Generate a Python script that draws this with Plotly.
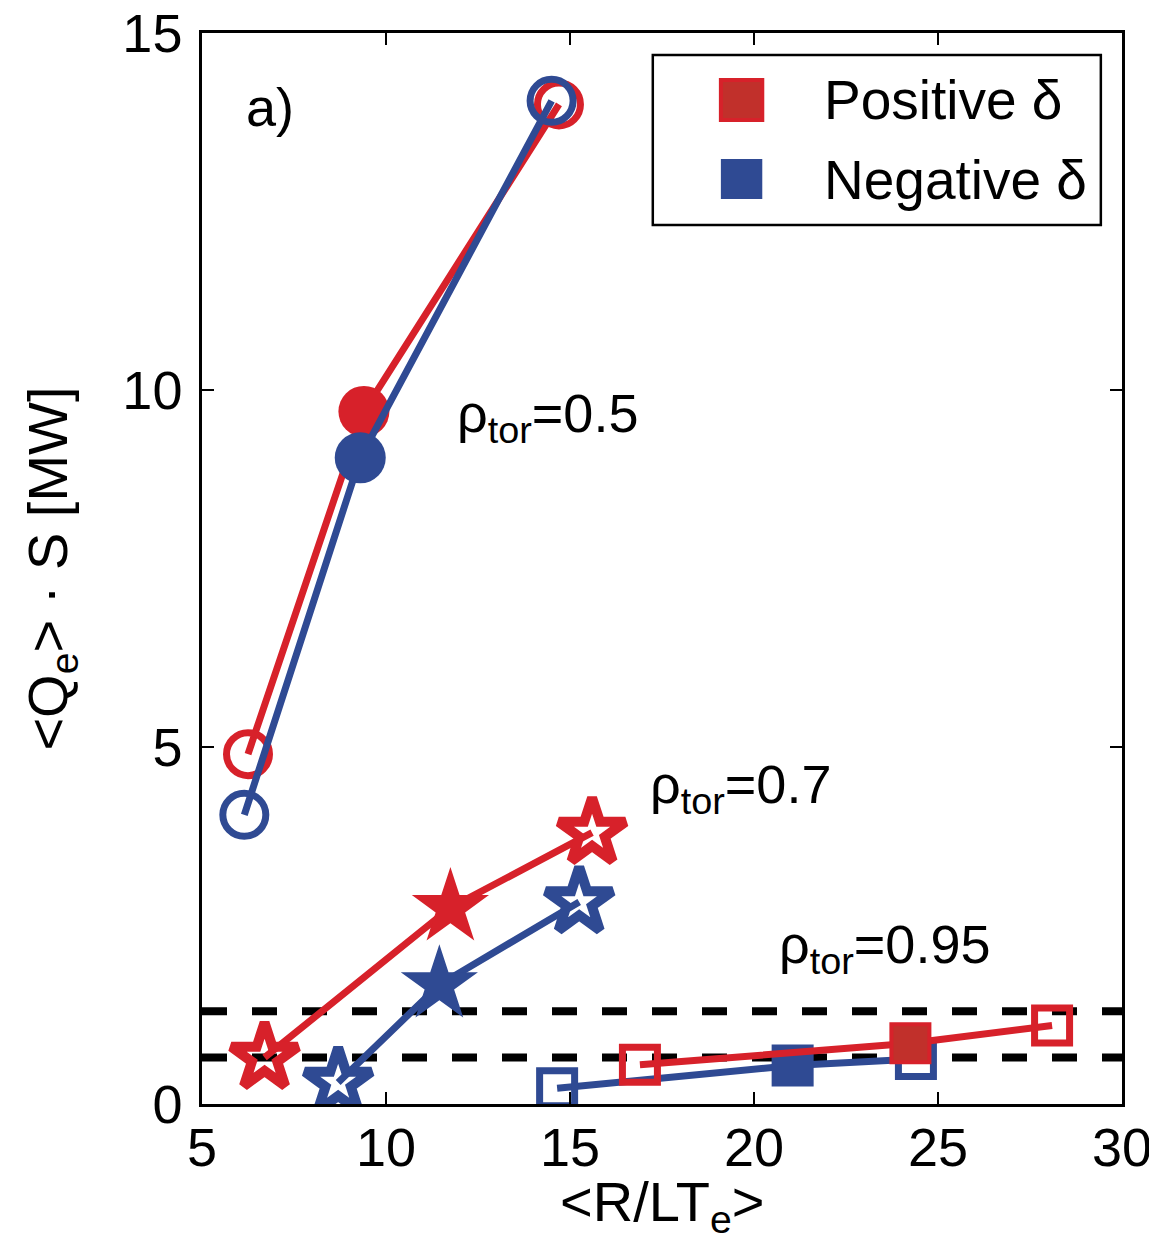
import plotly.graph_objects as go

# ---- data ----
rho05_pos_x = [6.25, 9.4, 14.7]
rho05_pos_y = [4.9, 9.7, 14.0]
rho05_neg_x = [6.15, 9.3, 14.5]
rho05_neg_y = [4.05, 9.05, 14.05]

rho07_pos_x = [6.7, 11.75, 15.6]
rho07_pos_y = [0.65, 2.75, 3.8]
rho07_neg_x = [8.7, 11.45, 15.25]
rho07_neg_y = [0.3, 1.67, 2.83]

rho095_pos_x = [16.9, 24.25, 28.1]
rho095_pos_y = [0.55, 0.85, 1.1]
rho095_neg_x = [14.65, 21.05, 24.4]
rho095_neg_y = [0.22, 0.54, 0.63]

dashed_levels = [1.3, 0.65]
x_range = [5, 30]
y_range = [0, 15]
x_ticks = [5, 10, 15, 20, 25, 30]
y_ticks = [0, 5, 10, 15]

legend_labels = ["Positive δ", "Negative δ"]

RED = "#d7212a"
RED_DARK = "#c1302b"
BLUE = "#2f4a93"
FONT = "Liberation Sans, Arial, sans-serif"
FS = 54

fig = go.Figure()

# dashed reference lines
for lvl in dashed_levels:
    fig.add_trace(go.Scatter(
        x=x_range, y=[lvl, lvl], mode="lines",
        line=dict(color="black", width=8, dash="25px,25px"),
        showlegend=False, hoverinfo="skip"))


def series(x, y, color, base, size, lw, open_lw, fill_color=None, fill_line=None):
    fig.add_trace(go.Scatter(
        x=x, y=y, mode="lines",
        line=dict(color=color, width=7),
        showlegend=False, hoverinfo="skip"))
    # open markers
    fig.add_trace(go.Scatter(
        x=[x[0], x[2]], y=[y[0], y[2]], mode="markers",
        marker=dict(symbol=base + "-open", size=size[0], color=color,
                    line=dict(width=open_lw, color=color)),
        showlegend=False, hoverinfo="skip"))
    # filled marker
    fig.add_trace(go.Scatter(
        x=[x[1]], y=[y[1]], mode="markers",
        marker=dict(symbol=base, size=size[1], color=fill_color or color,
                    line=dict(width=lw, color=fill_line or color)),
        showlegend=False, hoverinfo="skip"))


# rho = 0.5 circles
series(rho05_pos_x, rho05_pos_y, RED, "circle", (43, 51), 0, 7)
series(rho05_neg_x, rho05_neg_y, BLUE, "circle", (43, 51), 0, 7)
# rho = 0.7 stars
series(rho07_pos_x, rho07_pos_y, RED, "star", (50, 58), 0, 10)
series(rho07_neg_x, rho07_neg_y, BLUE, "star", (50, 58), 0, 10)
# rho = 0.95 squares
series(rho095_neg_x, rho095_neg_y, BLUE, "square", (35, 42), 0, 7)
series(rho095_pos_x, rho095_pos_y, RED, "square", (35, 38), 4, 7,
       fill_color=RED_DARK, fill_line=RED)

# ---- manual legend (paper coords) ----
shapes = [
    dict(type="rect", xref="paper", yref="paper", x0=0.490, x1=0.977,
         y0=0.8207, y1=0.9795, line=dict(color="black", width=2.5),
         fillcolor="white", layer="above"),
    dict(type="rect", xref="paper", yref="paper", x0=0.564, x1=0.609,
         y0=0.9188, y1=0.9561, line=dict(color=RED, width=4),
         fillcolor=RED_DARK, layer="above"),
    dict(type="rect", xref="paper", yref="paper", x0=0.564, x1=0.609,
         y0=0.845, y1=0.8824, line=dict(color=BLUE, width=0),
         fillcolor=BLUE, layer="above"),
]


def txt(text, x, y, size=FS, xanchor="left", yanchor="middle", angle=0):
    return dict(text=text, xref="paper", yref="paper", x=x, y=y,
                xanchor=xanchor, yanchor=yanchor, showarrow=False,
                textangle=angle,
                font=dict(size=size, color="black", family=FONT))


annotations = [
    txt(legend_labels[0], 0.674, 0.9374, size=55),
    txt(legend_labels[1], 0.674, 0.8627, size=55),
    txt("a)", 0.0735, 0.931, xanchor="center"),
    txt("ρ<sub>tor</sub>=0.5", 0.275, 0.6415),
    txt("ρ<sub>tor</sub>=0.7", 0.485, 0.2955),
    txt("ρ<sub>tor</sub>=0.95", 0.625, 0.1455),
    # axis titles
    txt("&lt;R/LT<sub>e</sub>&gt;", 0.5, -0.06, size=56, xanchor="center", yanchor="top"),
    txt("&lt;Q<sub>e</sub>&gt; · S [MW]", -0.164, 0.5, size=56, xanchor="center",
        angle=-90),
]

axis_common = dict(
    showgrid=False, zeroline=False, showline=True, linecolor="black",
    linewidth=2.5, mirror="ticks", ticks="inside", ticklen=12,
    tickwidth=2, tickcolor="black", automargin=False,
    ticklabeloverflow="allow",
    tickfont=dict(size=FS, color="black", family=FONT),
)

# page body has an 8px margin, so the figure is sized to fit the window
fig.update_layout(
    width=1149, height=1240,
    margin=dict(l=194, r=35, t=25, b=144),
    paper_bgcolor="white", plot_bgcolor="white",
    showlegend=False,
    shapes=shapes, annotations=annotations,
    xaxis=dict(range=x_range, tickvals=x_ticks, ticktext=[str(v) for v in x_ticks],
               ticklabelstandoff=-6, **axis_common),
    yaxis=dict(range=y_range, tickvals=y_ticks, ticktext=[str(v) for v in y_ticks],
               ticklabelstandoff=6, **axis_common),
)

fig.write_html("out.html")
